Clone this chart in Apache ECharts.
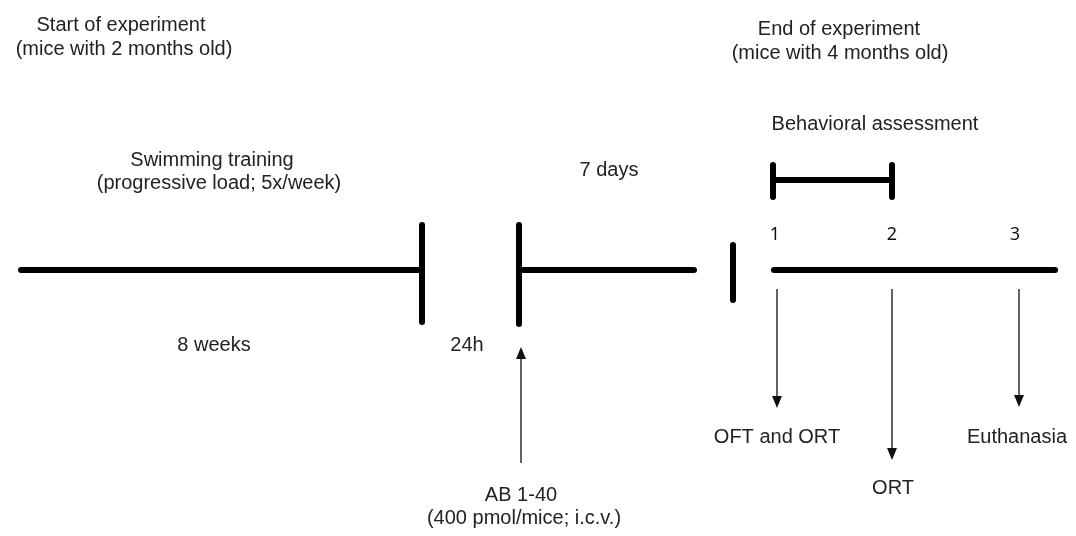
<!DOCTYPE html>
<html>
<head>
<meta charset="utf-8">
<script src="https://cdn.jsdelivr.net/npm/echarts@6/dist/echarts.min.js"></script>
<style>
  html, body { margin: 0; padding: 0; background: #fff; }
  #chart { width: 1076px; height: 536px; }
</style>
</head>
<body>
<div id="chart"></div>
<script>
// diagram units = pixels of the 1076x536 layout
var mainY = 270;
var timelineSegments = [[21, 422], [519, 694], [774, 1055]];
var tallBarX = [422, 519];
var tallBarSpan = [[225, 322], [225, 324]];
var shortBarX = [733];
var shortBarSpan = [245, 300];
var bracketX = [773, 892];
var bracketY = 180;
var bracketTick = [165, 197];

var stepLabels = ['1', '2', '3'];
var stepX = [775, 892, 1015];
var stepY = 235;

// arrows: x, from y, to y (head at "to")
var arrowX = [777, 892, 1019, 521];
var arrowFrom = [289, 289, 289, 463];
var arrowTo = [408, 460, 407, 347];

var textLabels = [
  'Start of experiment', '(mice with 2 months old)',
  'End of experiment', '(mice with 4 months old)',
  'Behavioral assessment',
  'Swimming training', '(progressive load; 5x/week)',
  '7 days', '8 weeks', '24h',
  'AB 1-40', '(400 pmol/mice; i.c.v.)',
  'OFT and ORT', 'ORT', 'Euthanasia'
];
var textX = [121, 124, 839, 840, 875, 212, 219, 609, 214, 467, 521, 524, 777, 893, 1017];
var textY = [25, 49, 29, 53, 124, 160, 183, 170, 345, 345, 495, 518, 437, 488, 437];

// build thick line list
var thick = [];
timelineSegments.forEach(function (s) { thick.push([s[0], mainY, s[1], mainY]); });
tallBarX.forEach(function (x, i) { thick.push([x, tallBarSpan[i][0], x, tallBarSpan[i][1]]); });
shortBarX.forEach(function (x) { thick.push([x, shortBarSpan[0], x, shortBarSpan[1]]); });
thick.push([bracketX[0], bracketY, bracketX[1], bracketY]);
bracketX.forEach(function (x) { thick.push([x, bracketTick[0], x, bracketTick[1]]); });

var arrows = arrowX.map(function (x, i) { return [x, arrowFrom[i], x, arrowTo[i]]; });

var chart = echarts.init(document.getElementById('chart'), null, { renderer: 'canvas' });

var option = {
  animation: false,
  backgroundColor: '#fff',
  grid: { left: 0, right: 0, top: 0, bottom: 0 },
  xAxis: { type: 'value', min: 0, max: 1076, show: false },
  yAxis: { type: 'value', min: 0, max: 536, inverse: true, show: false },
  series: [
    {
      type: 'custom',
      clip: false,
      data: thick,
      renderItem: function (params, api) {
        var a = api.coord([api.value(0), api.value(1)]);
        var b = api.coord([api.value(2), api.value(3)]);
        return {
          type: 'line',
          shape: { x1: a[0], y1: a[1], x2: b[0], y2: b[1] },
          style: { stroke: '#000', lineWidth: 6, lineCap: 'round' }
        };
      }
    },
    {
      type: 'custom',
      clip: false,
      data: arrows,
      renderItem: function (params, api) {
        var a = api.coord([api.value(0), api.value(1)]);
        var b = api.coord([api.value(2), api.value(3)]);
        var dir = b[1] > a[1] ? 1 : -1;
        var h = 12, w = 5;
        return {
          type: 'group',
          children: [
            {
              type: 'line',
              shape: { x1: a[0], y1: a[1], x2: b[0], y2: b[1] - dir * h },
              style: { stroke: '#222', lineWidth: 1.4 }
            },
            {
              type: 'polygon',
              shape: { points: [[b[0], b[1]], [b[0] - w, b[1] - dir * h], [b[0] + w, b[1] - dir * h]] },
              style: { fill: '#111' }
            }
          ]
        };
      }
    },
    {
      type: 'custom',
      clip: false,
      data: textLabels.map(function (t, i) { return [textX[i], textY[i]]; }),
      renderItem: function (params, api) {
        var p = api.coord([api.value(0), api.value(1)]);
        return {
          type: 'text',
          x: p[0],
          y: p[1],
          style: {
            text: textLabels[params.dataIndex],
            fill: '#222',
            font: '20px "Liberation Sans", Arial, sans-serif',
            align: 'center',
            verticalAlign: 'middle'
          }
        };
      }
    },
    {
      type: 'custom',
      clip: false,
      data: stepLabels.map(function (t, i) { return [stepX[i], stepY]; }),
      renderItem: function (params, api) {
        var p = api.coord([api.value(0), api.value(1)]);
        return {
          type: 'text',
          x: p[0],
          y: p[1],
          style: {
            text: stepLabels[params.dataIndex],
            fill: '#111',
            font: '18px "Noto Sans", sans-serif',
            align: 'center',
            verticalAlign: 'middle'
          }
        };
      }
    }
  ]
};

chart.setOption(option);
</script>
</body>
</html>
